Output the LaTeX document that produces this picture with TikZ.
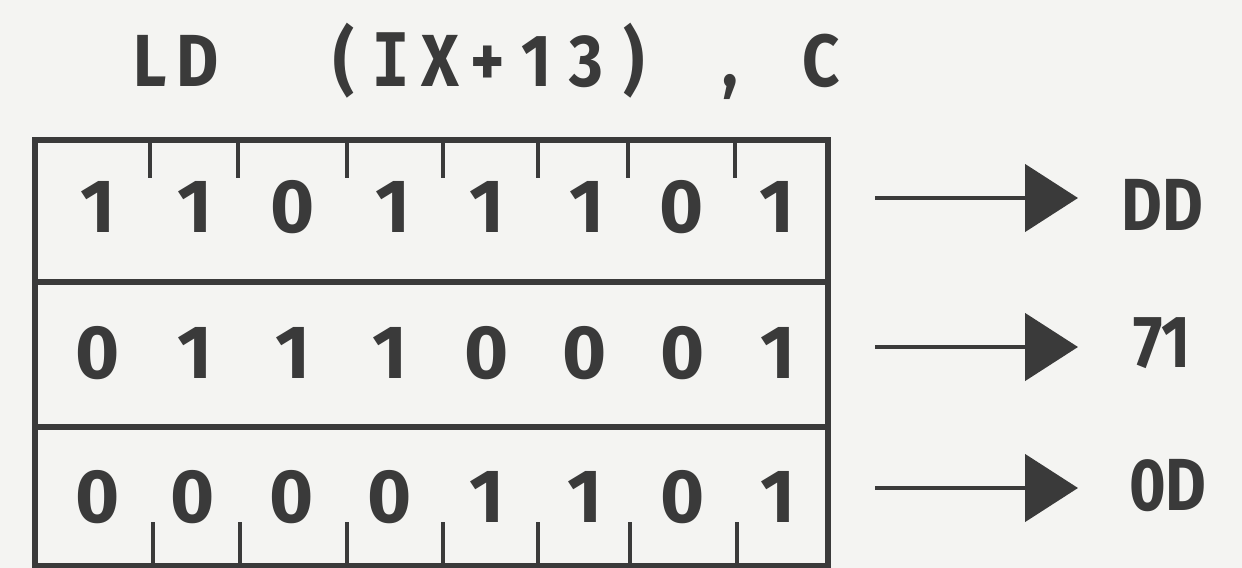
\documentclass[tikz,border=0pt]{standalone}
\usepackage{fontspec}
\usepackage{graphicx}
\setmainfont{Fira Sans}
\newfontfamily\monobold{DejaVu Sans Mono}
\usetikzlibrary{arrows.meta}
\definecolor{ink}{HTML}{3A3A3A}
\definecolor{paper}{HTML}{F4F4F2}
\tikzset{
  frame/.style={draw=ink, line width=3.6pt, line join=miter},
  tick/.style={draw=ink, line width=2.2pt},
  bit/.style={text=ink, inner sep=0pt, font=\fontsize{43}{43}\selectfont\bfseries},
  title/.style={text=ink, inner sep=0pt, anchor=base, xscale=0.88, font=\fontsize{42}{42}\selectfont\bfseries},
  hexlab/.style={text=ink, inner sep=0pt, font=\fontsize{42}{42}\selectfont\bfseries},
  arr/.style={draw=ink, line width=2.8pt, -{Triangle[length=1.06cm, width=1.34cm]}}
}
\begin{document}
\begin{tikzpicture}[x=0.02cm, y=-0.02cm]
\fill[paper] (0,0) rectangle (1242,568);
\useasboundingbox (0,0) rectangle (1242,568);
% title
\node[title] (tL) at (150,86) {L};
\node[title] (tD) at (198,86) {D};
\node[title] (tpo) at (344,86) {(};
\node[title] (tI) at (391,86) {{\monobold\bfseries\fontsize{42}{42}\selectfont I}};
\node[title] (tX) at (440,86) {X};
\node[title] (tplus) at (488,86) {+};
\node[title] (tone) at (537,86) {1};
\node[title] (tthree) at (586,86) {3};
\node[title] (tpc) at (634,86) {)};
\node[title] (tcomma) at (730,86) {,};
\node[title] (tC) at (821,86) {C};
% frame
\draw[frame] (35,140) rectangle (828,566);
\draw[frame] (35,282) -- (828,282);
\draw[frame] (35,427) -- (828,427);
% ticks
\foreach \x in {150,238,347,443,538,628,735} \draw[tick] (\x,140) -- (\x,178);
\foreach \x in {153,240,347,443,538,630,737} \draw[tick] (\x,522) -- (\x,566);
% bits
\foreach \b [count=\i] in {1,1,0,1,1,1,0,1} {
  \pgfmathsetmacro{\xx}{{98,195,293,393,487,587,682,777}[\i-1]}
  \node[bit] (a\i) at (\xx,207) {\b};
}
\foreach \b [count=\i] in {0,1,1,1,0,0,0,1} {
  \pgfmathsetmacro{\xx}{{98,195,293,390,487,585,683,778}[\i-1]}
  \node[bit] (b\i) at (\xx,353) {\b};
}
\foreach \b [count=\i] in {0,0,0,0,1,1,0,1} {
  \pgfmathsetmacro{\xx}{{98,193,292,390,487,585,683,778}[\i-1]}
  \node[bit] (c\i) at (\xx,497) {\b};
}
% labels
\node[hexlab] (hDD) at (1162,205) {\scalebox{0.85}[1]{DD}};
\node[hexlab] (h71) at (1162,343) {\scalebox{0.85}[1]{71}};
\node[hexlab] (h0D) at (1168,486) {\scalebox{0.85}[1]{0D}};
% arrows
\coordinate (s1) at (875,198); \coordinate (e1) at (1078,198);
\coordinate (s2) at (875,347); \coordinate (e2) at (1078,347);
\coordinate (s3) at (875,488); \coordinate (e3) at (1078,488);
\draw[arr] (s1) -- (e1);
\draw[arr] (s2) -- (e2);
\draw[arr] (s3) -- (e3);
\end{tikzpicture}
\end{document}
